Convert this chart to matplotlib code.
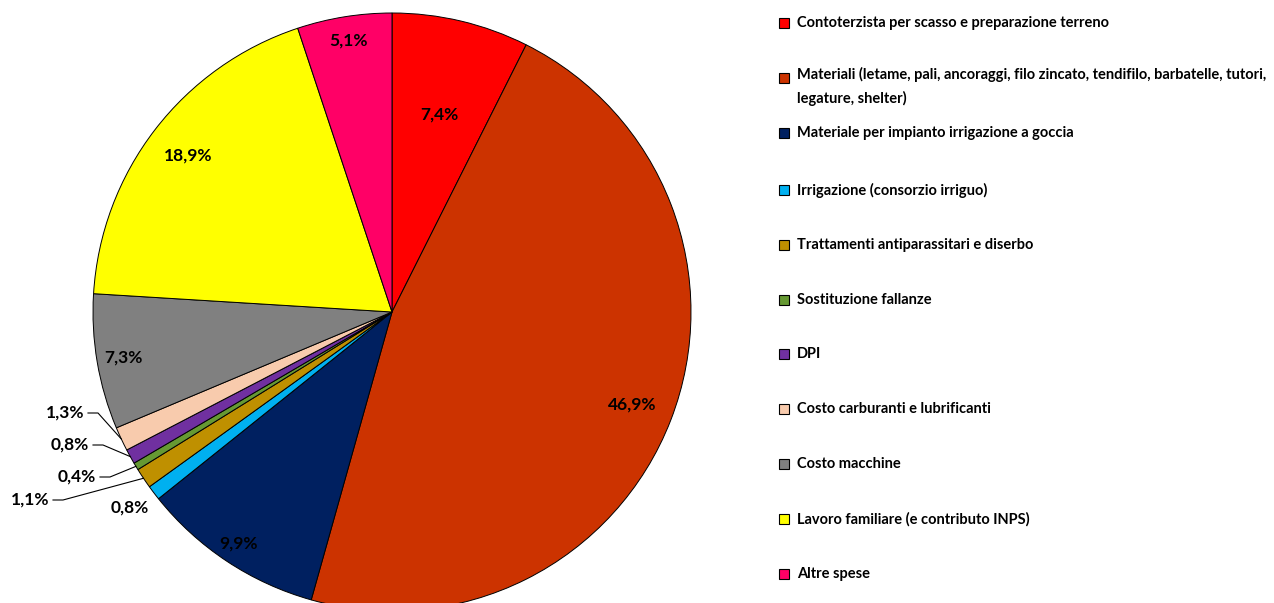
import matplotlib
matplotlib.use('Agg')
import matplotlib.pyplot as plt
from matplotlib.patches import Rectangle
import numpy as np

plt.rcParams['font.family'] = ['Lato', 'DejaVu Sans']

categories = [
    'Contoterzista per scasso e preparazione terreno',
    'Materiali (letame, pali, ancoraggi, filo zincato, tendifilo, barbatelle, tutori,\nlegature, shelter)',
    'Materiale per impianto irrigazione a goccia',
    'Irrigazione (consorzio irriguo)',
    'Trattamenti antiparassitari e diserbo',
    'Sostituzione fallanze',
    'DPI',
    'Costo carburanti e lubrificanti',
    'Costo macchine',
    'Lavoro familiare (e contributo INPS)',
    'Altre spese',
]
values = [7.4, 46.9, 9.9, 0.8, 1.1, 0.4, 0.8, 1.3, 7.3, 18.9, 5.1]
labels = ['7,4%', '46,9%', '9,9%', '0,8%', '1,1%', '0,4%', '0,8%', '1,3%', '7,3%', '18,9%', '5,1%']
colors = ['#FF0000', '#CC3300', '#002060', '#00B0F0', '#BF9000', '#669933',
          '#7030A0', '#F8CBAD', '#808080', '#FFFF00', '#FF0066']

W, H = 1274, 603
fig = plt.figure(figsize=(W / 100, H / 100), dpi=100)
ax = fig.add_axes([0, 0, 1, 1])

cx, cy, R = 392, H - 312, 299
wedges, _ = ax.pie(values, colors=colors, center=(cx, cy), radius=R,
                   startangle=90, counterclock=False,
                   wedgeprops=dict(edgecolor='black', linewidth=0.7))
ax.set_xlim(0, W)
ax.set_ylim(0, H)
ax.set_aspect('equal')
ax.axis('off')

# label placement: radius fraction for inside labels, explicit text spot for small ones
rfrac = [0.68, 0.86, 0.93, None, None, None, None, None, 0.91, 0.86, 0.92]
outside = {3: (130, 508), 4: (30, 500), 5: (77, 477), 6: (70, 445), 7: (65, 413)}
leader = {4, 5, 6, 7}

for i, w in enumerate(wedges):
    mid = np.deg2rad((w.theta1 + w.theta2) / 2)
    if i in outside:
        tx, ty = outside[i]
        ty = H - ty
        ax.text(tx, ty, labels[i], ha='center', va='center', fontsize=12.5,
                fontweight='bold')
        if i in leader:
            ex, ey = cx + R * np.cos(mid), cy + R * np.sin(mid)
            x0 = tx + 23
            ax.plot([x0, x0 + 10, ex], [ty, ty, ey], color='black', lw=0.8)
    else:
        r = R * rfrac[i]
        ax.text(cx + r * np.cos(mid), cy + r * np.sin(mid), labels[i],
                ha='center', va='center', fontsize=12.5, fontweight='bold')

# legend
leg_y = [23, 78, 133, 190, 245, 300, 354, 409, 464, 519, 574]
for c, name, y in zip(colors, categories, leg_y):
    ax.add_patch(Rectangle((779, H - y - 5), 10, 10, facecolor=c,
                           edgecolor='black', lw=0.8, clip_on=False))
    if '\n' in name:
        ax.text(797, H - y + 11, name, ha='left', va='top', fontsize=10.5,
                fontweight='bold', linespacing=1.75)
    else:
        ax.text(797, H - y, name, ha='left', va='center', fontsize=10.5,
                fontweight='bold')

plt.savefig('out.png', dpi=100)
